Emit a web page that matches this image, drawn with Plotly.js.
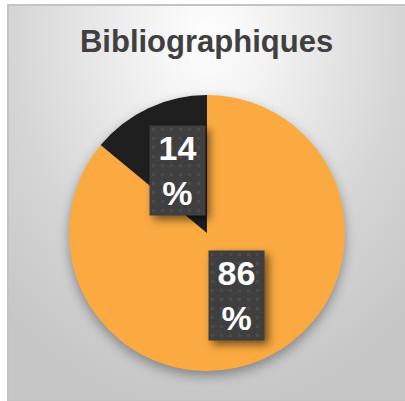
<!DOCTYPE html>
<html>
<head>
<meta charset="utf-8">
<script src="https://cdn.plot.ly/plotly-3.0.1.min.js"></script>
<style>
  html, body { margin: 0; padding: 0; background: #ffffff; }
  #wrap { position: relative; width: 405px; height: 401px; overflow: hidden; }
  #frame {
    position: absolute; left: 7px; top: 4px; width: 396px; height: 394px;
    border: 2px solid #c4c4c4; border-right: none;
    background: radial-gradient(ellipse 75% 95% at 50% 8%, #ffffff 0%, #f2f2f2 22%, #d6d6d6 65%, #c6c6c6 100%);
  }
  #chart { position: absolute; left: 0; top: 0; width: 405px; height: 401px; }
  .pielayer { filter: drop-shadow(0px 5px 6px rgba(0,0,0,0.35)); }
  .annotation rect.bg { fill: url(#dots) !important; filter: drop-shadow(4px 4px 4px rgba(0,0,0,0.55)); }
</style>
</head>
<body>
<svg width="0" height="0" style="position:absolute">
  <defs>
    <pattern id="dots" patternUnits="userSpaceOnUse" width="9" height="9">
      <rect width="9" height="9" fill="#3f3f3f"></rect>
      <circle cx="4.5" cy="4.5" r="1.8" fill="#4b4b4b"></circle>
    </pattern>
  </defs>
</svg>
<div id="wrap">
  <div id="frame"></div>
  <div id="chart"></div>
</div>
<script>
// ---- data ----
const categories = ['Oui', 'Non'];
const values = [86, 14];
const sliceColors = ['#FAAA41', '#1f1f1f'];
const chartTitle = 'Bibliographiques';

// ---- layout constants (pixels) ----
const W = 405, H = 401;
const CX = 207, CY = 233, R = 138;   // pie centre / radius in page pixels
const LABEL_R = 0.5;                  // label distance as fraction of radius

const total = values.reduce((a, b) => a + b, 0);
let cum = 0;
const annotations = values.map((v, i) => {
  const f = v / total;
  const mid = cum + f / 2;
  cum += f;
  const th = 2 * Math.PI * mid;        // clockwise from 12 o'clock
  const px = CX + LABEL_R * R * Math.sin(th);
  const py = CY - LABEL_R * R * Math.cos(th);
  return {
    xref: 'paper', yref: 'paper',
    x: px / W, y: 1 - py / H,
    xanchor: 'center', yanchor: 'middle',
    text: Math.round(f * 100) + '<br>%',
    showarrow: false,
    font: { family: 'Arial, "Liberation Sans", sans-serif', size: 34, color: '#ffffff', weight: 'bold' },
    bgcolor: '#404040',
    width: 55, height: 89,
    align: 'center', valign: 'middle',
    borderpad: 0
  };
});

const trace = {
  type: 'pie',
  labels: categories,
  values: values,
  sort: false,
  direction: 'clockwise',
  rotation: 0,
  marker: { colors: sliceColors, line: { width: 0 } },
  textinfo: 'none',
  hoverinfo: 'label+percent',
  showlegend: false,
  domain: { x: [(CX - R) / W, (CX + R) / W], y: [(H - CY - R) / H, (H - CY + R) / H] }
};

const layout = {
  width: W, height: H,
  margin: { l: 0, r: 0, t: 0, b: 0 },
  paper_bgcolor: 'rgba(0,0,0,0)',
  plot_bgcolor: 'rgba(0,0,0,0)',
  showlegend: false,
  title: {
    text: '<b>' + chartTitle + '</b>',
    font: { family: 'Arial, "Liberation Sans", sans-serif', size: 31, color: '#404040' },
    x: 0.51, xanchor: 'center',
    yref: 'container', y: 1 - 41 / H, yanchor: 'middle'
  },
  annotations: annotations
};

Plotly.newPlot('chart', [trace], layout, { displayModeBar: false, staticPlot: true });
</script>
</body>
</html>
